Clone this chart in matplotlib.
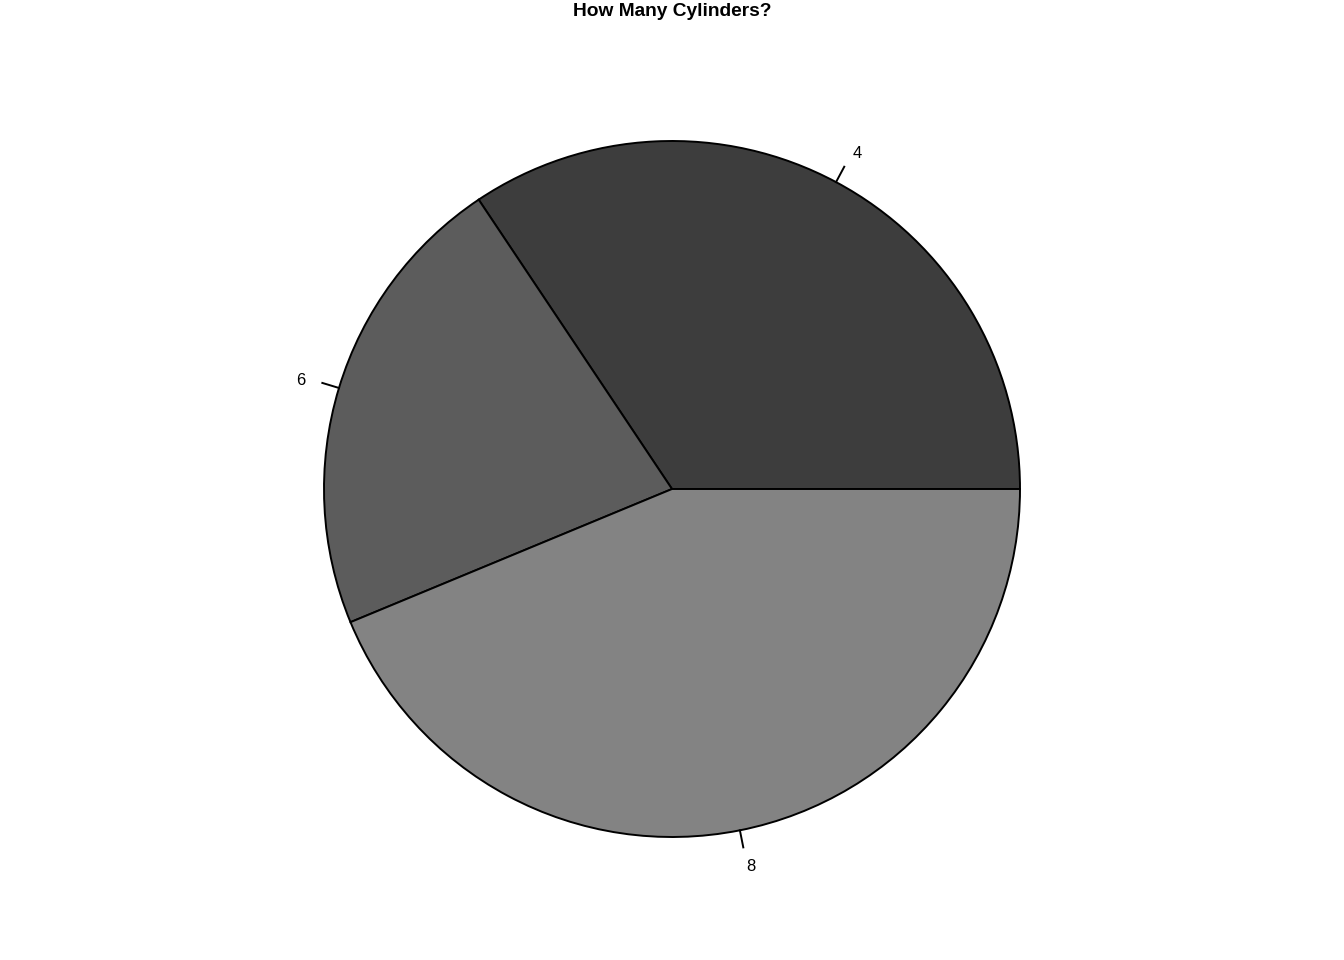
import matplotlib

matplotlib.use("Agg")
import matplotlib.pyplot as plt
import numpy as np

# counts of cars by number of cylinders
labels = ["4", "6", "8"]
counts = [11, 7, 14]
colors = ["#3d3d3d", "#5c5c5c", "#838383"]

W, H = 1344, 960
R_PX = 348
CX, CY = 672, 489  # pie centre in pixels from top-left

fig = plt.figure(figsize=(W / 100, H / 100), dpi=100)
ax = fig.add_axes([0, 0, 1, 1])

wedges, _ = ax.pie(
    counts,
    colors=colors,
    startangle=0,
    counterclock=True,
    radius=1.0,
    wedgeprops=dict(edgecolor="black", linewidth=1.4),
)
ax.set_aspect("auto")
ax.set_xlim(-CX / R_PX, (W - CX) / R_PX)
ax.set_ylim(-(H - CY) / R_PX, CY / R_PX)
ax.axis("off")

# R-style ticks and labels at the middle of each slice
for w, lab in zip(wedges, labels):
    mid = np.deg2rad((w.theta1 + w.theta2) / 2)
    c, s = np.cos(mid), np.sin(mid)
    ax.plot([c, 1.05 * c], [s, 1.05 * s], color="black", linewidth=1.4)
    ax.annotate(lab, (1.1 * c, 1.1 * s), xytext=(0, -1.8),
                textcoords="offset points",
                ha="left" if c > 0 else "right", va="center",
                fontsize=12, family="Liberation Sans")

fig.text(0.5, 1 - 12 / H, "How Many Cylinders?", ha="center", va="center",
         fontsize=13.8, fontweight="bold", family="Liberation Sans")

fig.savefig("out.png", dpi=100)
